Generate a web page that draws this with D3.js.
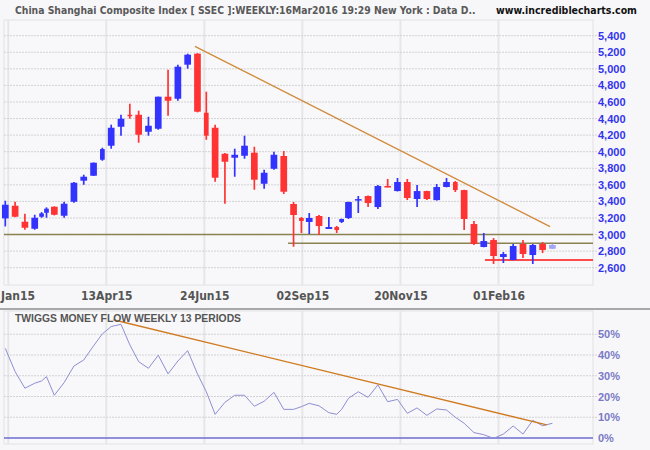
<!DOCTYPE html>
<html><head><meta charset="utf-8">
<script src="https://cdn.jsdelivr.net/npm/d3@7"></script>
<style>body{margin:0;background:#f7f7f9;}svg{display:block;}</style>
</head><body>
<svg id="c" width="650" height="450"></svg>
<script>
// ---- data (weekly SSEC candles) ----
const weekStart = ["19Jan15","26Jan15","02Feb15","09Feb15","16Feb15","23Feb15","02Mar15","09Mar15","16Mar15","23Mar15",
 "30Mar15","06Apr15","13Apr15","20Apr15","27Apr15","04May15","11May15","18May15","25May15","01Jun15",
 "08Jun15","15Jun15","22Jun15","29Jun15","06Jul15","13Jul15","20Jul15","27Jul15","03Aug15","10Aug15",
 "17Aug15","24Aug15","31Aug15","07Sep15","14Sep15","21Sep15","28Sep15","05Oct15","12Oct15","19Oct15",
 "26Oct15","02Nov15","09Nov15","16Nov15","23Nov15","30Nov15","07Dec15","14Dec15","21Dec15","28Dec15",
 "04Jan16","11Jan16","18Jan16","25Jan16","01Feb16","15Feb16","22Feb16","29Feb16","07Mar16","14Mar16"];
const tradingDays = [5,5,5,5,2,3,5,5,5,5, 5,4,5,5,4,5,5,5,5,5, 5,5,4,5,5,5,5,5,5,5, 5,5,3,5,5,5,3,2,5,5, 5,5,5,5,5,5,5,5,5,4, 5,5,5,5,5,5,5,5,5,5];
const openV  = [3195,3348,3155,3070,3215,3263,3336,3227,3396,3650, 3710,3903,4072,4301,4446,4446,4241,4277,4664,4639, 5050,5183,4470,4289,3975,3927,3951,3988,3613,3794, 3948,3369,3200,3152,3224,3067,3091,3152,3200,3416, 3465,3332,3586,3525,3634,3429,3525,3416,3574,3634, 3537,3127,2850,2934,2729,2693,2886,2753,2886,2829];
const highV  = [3408,3396,3251,3239,3271,3328,3340,3396,3633,3722, 3870,4048,4326,4446,4579,4495,4422,4664,4990,5050, 5183,5190,4724,4326,3985,4036,4193,4060,3782,4000, 4009,3393,3212,3260,3236,3212,3103,3192,3397,3465, 3470,3598,3671,3683,3671,3598,3530,3610,3683,3646, 3541,3164,3019,2958,2789,2886,2934,2886,2910,2890];
const lowV   = [3098,3210,3058,3058,3203,3203,3231,3203,3384,3601, 3706,3891,4036,4193,4398,4108,4193,4265,4434,4615, 5002,4475,4144,3637,3372,3698,3915,3541,3553,3782, 3489,2853,3019,3007,2995,3067,3019,3140,3188,3260, 3332,3308,3570,3520,3417,3332,3417,3410,3570,3513, 3055,2874,2846,2645,2657,2690,2717,2645,2777,2825];
const closeV = [3360,3215,3082,3203,3255,3312,3239,3372,3625,3698, 3867,4032,4289,4398,4434,4205,4313,4664,4615,5026, 5171,4483,4193,3686,3879,3963,4072,3662,3746,3963, 3517,3236,3164,3200,3103,3091,3055,3188,3393,3428, 3380,3586,3574,3634,3441,3525,3429,3574,3634,3537, 3188,2886,2922,2741,2765,2862,2765,2874,2814,2874];
const moneyFlow = [43.2,32.0,24.0,26.4,27.5,29.6,20.6,26.7,34.7,37.6, 44.4,50.2,53.7,54.8,44.9,36.8,33.6,39.9,30.9,37.1, 42.1,30.9,22.3,11.4,17.2,20.6,20.6,15.3,17.7,22.0, 13.8,13.8,15.1,16.7,15.5,12.2,11.4,13.8,19.1,22.3, 19.6,25.6,17.5,18.6,11.9,14.5,10.9,14.0,13.5,10.0, 7.1,2.6,1.6,-0.2,1.9,5.8,1.9,8.5,5.9,7.1];

const priceTicks = [2600,2800,3000,3200,3400,3600,3800,4000,4200,4400,4600,4800,5000,5200,5400];
const mfTicks = [0,10,20,30,40,50];
const dateTickDay = [4,54,104,154,204,254];           // trading-day index of each date label
const dateTickLabel = ["Jan15","13Apr15","24Jun15","02Sep15","20Nov15","01Feb16"];

// trendlines / levels: [trading-day index, value]
const priceTrend = [[99.2,5272],[280.3,3095]];
const mfTrend = [[57.6,57.0],[278.6,6.3]];
const levelValue = [3000,2895,2693];
const levelFromDay = [1.8,146.7,247.1];
const levelColor = ["#8a8350","#8a8350","#ff1010"];

const titleText = "China Shanghai Composite Index [ SSEC ]:WEEKLY:16Mar2016 19:29 New York : Data D..";
const siteText = "www.incrediblecharts.com";
const mfTitle = "TWIGGS MONEY FLOW WEEKLY 13 PERIODS";

// ---- layout ----
const plotL = 4, plotR = 593;
const topT = 20, topB = 285, botT = 311, botB = 444;
const svg = d3.select("#c");
const N = openV.length;
const startDay = []; { let s = 0; tradingDays.forEach(d => { startDay.push(s); s += d; }); }

const x = d3.scaleLinear().domain([0, 302]).range([0.4, 592.6]);
const yP = d3.scaleLinear().domain([2600, 5400]).range([267.7, 35.7]);
const yM = d3.scaleLinear().domain([0, 50]).range([438, 334.25]);

// pick a condensed face if one is installed
function pickFont(cands) {
  const probe = svg.append("text").attr("font-size", "40px").text("abcdefghijklmnopWMQ0123");
  probe.attr("font-family", "monospace"); const mono = probe.node().getComputedTextLength();
  probe.attr("font-family", "serif"); const ser = probe.node().getComputedTextLength();
  let chosen = null;
  for (const f of cands) {
    probe.attr("font-family", `'${f}', monospace`); const a = probe.node().getComputedTextLength();
    probe.attr("font-family", `'${f}', serif`); const b = probe.node().getComputedTextLength();
    if (Math.abs(a - mono) > 0.5 || Math.abs(b - ser) > 0.5) { chosen = f; break; }
  }
  probe.remove();
  return chosen;
}
const narrow = pickFont(["Liberation Sans Narrow", "Arial Narrow", "DejaVu Sans Condensed", "Roboto Condensed", "Open Sans Condensed"]);
const fontMain = "'Liberation Sans', Arial, sans-serif";
const fontNarrow = narrow ? `'${narrow}', 'Liberation Sans', sans-serif` : fontMain;

svg.append("rect").attr("width", 650).attr("height", 450).attr("fill", "#f7f7f9");

// panel frames
[[topT, topB], [botT, botB]].forEach(([t, b]) => {
  svg.append("rect").attr("x", plotL).attr("y", t).attr("width", plotR - plotL).attr("height", b - t)
    .attr("fill", "#f8f8fa").attr("stroke", "#e2e2e4").attr("stroke-width", 1);
});
svg.append("line").attr("x1", 0).attr("x2", 650).attr("y1", 309).attr("y2", 309)
  .attr("stroke", "#a8a8a8").attr("stroke-width", 2);

// vertical grid
[[topT, topB], [botT, botB]].forEach(([t, b]) => {
  svg.append("g").selectAll("line").data(dateTickDay).join("line")
    .attr("x1", d => x(d)).attr("x2", d => x(d)).attr("y1", t).attr("y2", b)
    .attr("stroke", "#e6e6e8").attr("stroke-width", 2);
});

// horizontal grid
svg.append("g").selectAll("line").data(priceTicks).join("line")
  .attr("x1", plotL).attr("x2", 597).attr("y1", d => yP(d)).attr("y2", d => yP(d))
  .attr("stroke", "#d2d2d4").attr("stroke-dasharray", "2,1");
svg.append("g").selectAll("line").data(mfTicks.filter(d => d > 0)).join("line")
  .attr("x1", plotL).attr("x2", 597).attr("y1", d => yM(d)).attr("y2", d => yM(d))
  .attr("stroke", "#d2d2d4").attr("stroke-dasharray", "2,1");

// axes
const axP = svg.append("g").attr("transform", "translate(596,0)")
  .call(d3.axisRight(yP).tickValues(priceTicks).tickFormat(d3.format(",")).tickSize(0).tickPadding(2));
axP.select(".domain").remove();
axP.selectAll("text").attr("fill", "#3434ee").attr("font-family", fontMain).attr("font-weight", "bold").attr("font-size", "11px");

const axM = svg.append("g").attr("transform", "translate(596,0)")
  .call(d3.axisRight(yM).tickValues(mfTicks).tickFormat(d => d + "%").tickSize(0).tickPadding(2));
axM.select(".domain").remove();
axM.selectAll("text").attr("fill", "#7a7ac6").attr("font-family", fontMain).attr("font-weight", "bold").attr("font-size", "11px");

const axX = svg.append("g").attr("transform", "translate(0,288)")
  .call(d3.axisBottom(x).tickValues(dateTickDay).tickFormat((d, i) => dateTickLabel[i]).tickSize(0).tickPadding(3));
axX.select(".domain").remove();
axX.selectAll("text").attr("fill", "#555").attr("font-family", fontNarrow).attr("font-weight", "bold")
  .attr("font-size", narrow ? "12px" : "11px");
// keep a label that would run past the left edge inside the picture
axX.selectAll("text").each(function () {
  const t = d3.select(this);
  const w = this.getComputedTextLength();
  const tx = +this.parentNode.getAttribute("transform").match(/translate\(([-\d.]+)/)[1];
  if (tx - w / 2 < 0) t.attr("text-anchor", "start").attr("x", -tx + 1);
});

// level lines
svg.append("g").selectAll("line").data(levelValue).join("line")
  .attr("x1", (d, i) => x(levelFromDay[i])).attr("x2", plotR)
  .attr("y1", d => yP(d)).attr("y2", d => yP(d))
  .attr("stroke", (d, i) => levelColor[i]).attr("stroke-width", 1.5);

// candles
const cx = i => x(startDay[i] + tradingDays[i] / 2);
const colorOf = i => i === N - 1 ? "#a4a4f4" : (closeV[i] >= openV[i] ? "#3333ff" : "#ff3333");
const bodyW = i => tradingDays[i] >= 5 ? 6.7 : 4.7;
const candles = svg.append("g").selectAll("g").data(d3.range(N)).join("g");
candles.append("line")
  .attr("x1", cx).attr("x2", cx).attr("y1", i => yP(highV[i])).attr("y2", i => yP(lowV[i]))
  .attr("stroke", colorOf).attr("stroke-width", 1.7);
candles.append("rect")
  .attr("x", i => cx(i) - bodyW(i) / 2).attr("width", bodyW)
  .attr("y", i => yP(Math.max(openV[i], closeV[i])))
  .attr("height", i => Math.max(1.5, Math.abs(yP(openV[i]) - yP(closeV[i]))))
  .attr("fill", colorOf);

// price trendline
svg.append("line")
  .attr("x1", x(priceTrend[0][0])).attr("y1", yP(priceTrend[0][1]))
  .attr("x2", x(priceTrend[1][0])).attr("y2", yP(priceTrend[1][1]))
  .attr("stroke", "#d08a3a").attr("stroke-width", 1.3);

// money flow
svg.append("line").attr("x1", plotL).attr("x2", plotR).attr("y1", yM(0)).attr("y2", yM(0))
  .attr("stroke", "#6c6cd0").attr("stroke-width", 1.5);
svg.append("path").datum(d3.range(N))
  .attr("d", d3.line().x(cx).y(i => yM(moneyFlow[i])))
  .attr("fill", "none").attr("stroke", "#8e8ed2").attr("stroke-width", 1);
svg.append("line")
  .attr("x1", x(mfTrend[0][0])).attr("y1", yM(mfTrend[0][1]))
  .attr("x2", x(mfTrend[1][0])).attr("y2", yM(mfTrend[1][1]))
  .attr("stroke", "#d07a20").attr("stroke-width", 1.4);

// titles: size the font so the text spans the same width as in the reference
function fitSize(sel, w, maxSize) {
  sel.attr("font-size", "20px");
  const cur = sel.node().getComputedTextLength();
  const fs = Math.min(maxSize, 20 * w / cur);
  sel.attr("font-size", fs.toFixed(2) + "px");
}
const t1 = svg.append("text").attr("x", 15).attr("y", 14).text(titleText)
  .attr("fill", "#595959").attr("font-family", fontNarrow).attr("font-weight", "bold");
fitSize(t1, 461, 13);
const t2 = svg.append("text").attr("x", 496).attr("y", 14).text(siteText)
  .attr("fill", "#111").attr("font-family", fontNarrow).attr("font-weight", "bold");
fitSize(t2, 141, 13);
const t3 = svg.append("text").attr("x", 15).attr("y", 322).text(mfTitle)
  .attr("fill", "#555").attr("font-family", fontMain).attr("font-weight", "bold");
fitSize(t3, 226, 11);
</script>
</body></html>
